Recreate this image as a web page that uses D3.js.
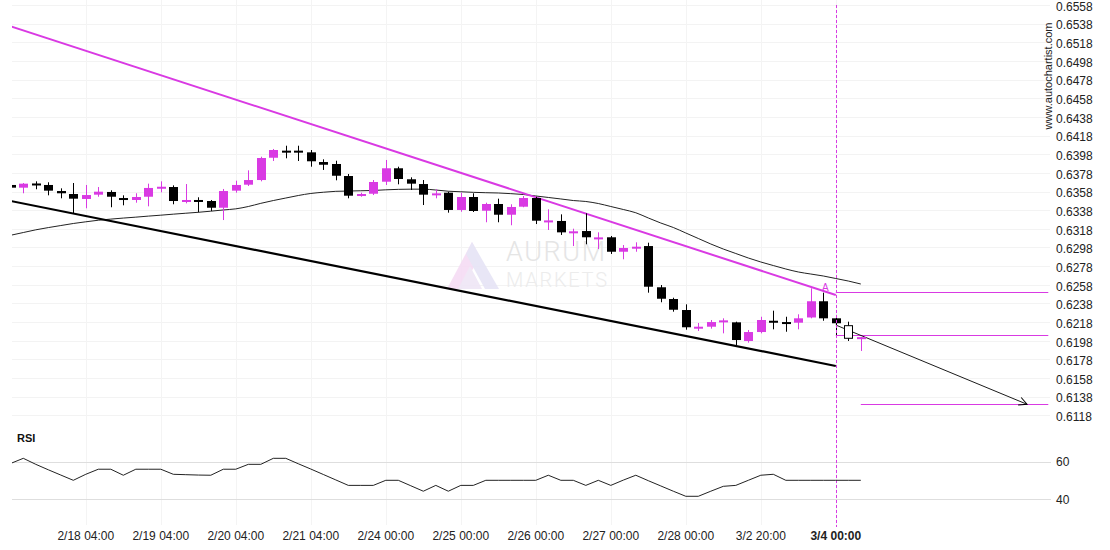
<!DOCTYPE html>
<html>
<head>
<meta charset="utf-8">
<script src="https://cdnjs.cloudflare.com/ajax/libs/d3/7.8.5/d3.min.js"></script>
<style>
  body { margin: 0; background: #fff; }
  svg { display: block; }
  text { font-family: "Liberation Sans", Arial, sans-serif; }
</style>
</head>
<body>
<svg id="chart"></svg>
<script>
var width = 1110,
    height = 550;

// 4h candles, index 0..68
var opens = [0.63650,0.63621,0.63666,0.63650,0.63585,0.63553,0.63500,0.63546,0.63575,0.63510,
  0.63489,0.63524,0.63614,0.63628,0.63482,0.63489,0.63478,0.63406,0.63589,0.63653,
  0.63703,0.63942,0.64018,0.64018,0.64000,0.63896,0.63875,0.63746,0.63535,0.63556,
  0.63685,0.63829,0.63711,0.63660,0.63553,0.63567,0.63382,0.63521,0.63374,0.63446,
  0.63331,0.63417,0.63510,0.63264,0.63264,0.63146,0.63156,0.63081,0.63089,0.62934,
  0.62979,0.62995,0.62553,0.62427,0.62309,0.62124,0.62130,0.62191,0.62177,0.61977,
  0.62073,0.62194,0.62180,0.62173,0.62229,0.62403,0.62220,0.62006,0.62012];
var highs = [0.63655,0.63671,0.63689,0.63679,0.63614,0.63671,0.63650,0.63628,0.63593,0.63539,
  0.63561,0.63664,0.63689,0.63646,0.63660,0.63518,0.63489,0.63607,0.63696,0.63807,
  0.63953,0.64036,0.64071,0.64071,0.64025,0.63925,0.63910,0.63768,0.63567,0.63703,
  0.63918,0.63846,0.63732,0.63703,0.63604,0.63578,0.63567,0.63561,0.63460,0.63503,
  0.63443,0.63532,0.63524,0.63389,0.63335,0.63181,0.63346,0.63142,0.63103,0.63006,
  0.63035,0.63031,0.62577,0.62441,0.62370,0.62170,0.62202,0.62220,0.62184,0.62095,
  0.62237,0.62302,0.62237,0.62263,0.62542,0.62495,0.62256,0.62184,0.62019];
var lows = [0.63617,0.63561,0.63604,0.63539,0.63507,0.63346,0.63400,0.63524,0.63411,0.63432,
  0.63460,0.63421,0.63571,0.63443,0.63453,0.63357,0.63371,0.63274,0.63567,0.63639,
  0.63689,0.63907,0.63936,0.63907,0.63846,0.63811,0.63700,0.63507,0.63524,0.63542,
  0.63650,0.63657,0.63596,0.63435,0.63507,0.63353,0.63363,0.63360,0.63250,0.63250,
  0.63218,0.63411,0.63231,0.63167,0.63114,0.62995,0.63014,0.62963,0.62910,0.62853,
  0.62934,0.62495,0.62392,0.62291,0.62098,0.62084,0.62109,0.62059,0.61934,0.61959,
  0.62059,0.62102,0.62076,0.62102,0.62220,0.62194,0.62041,0.61977,0.61870];
var closes = [0.63621,0.63664,0.63660,0.63589,0.63561,0.63503,0.63542,0.63578,0.63524,0.63492,
  0.63521,0.63618,0.63631,0.63478,0.63489,0.63482,0.63406,0.63585,0.63650,0.63703,
  0.63939,0.64025,0.64011,0.64011,0.63904,0.63867,0.63749,0.63535,0.63553,0.63682,
  0.63829,0.63714,0.63664,0.63546,0.63560,0.63382,0.63521,0.63371,0.63446,0.63331,
  0.63414,0.63510,0.63267,0.63270,0.63142,0.63153,0.63089,0.63088,0.62934,0.62974,
  0.62988,0.62559,0.62430,0.62312,0.62124,0.62130,0.62180,0.62198,0.61987,0.62073,
  0.62202,0.62188,0.62174,0.62220,0.62403,0.62220,0.62167,0.62141,0.62018];
var hollowIdx = [67];

var maValues = [0.63111,0.63140,0.63169,0.63193,0.63215,0.63237,0.63255,0.63272,0.63284,0.63295,
  0.63305,0.63316,0.63326,0.63337,0.63347,0.63357,0.63369,0.63382,0.63394,0.63419,
  0.63453,0.63483,0.63510,0.63537,0.63559,0.63572,0.63582,0.63585,0.63588,0.63591,
  0.63598,0.63603,0.63605,0.63605,0.63596,0.63583,0.63577,0.63571,0.63567,0.63564,
  0.63557,0.63548,0.63532,0.63516,0.63500,0.63483,0.63473,0.63451,0.63419,0.63387,
  0.63352,0.63296,0.63242,0.63194,0.63135,0.63076,0.63017,0.62963,0.62915,0.62867,
  0.62824,0.62786,0.62749,0.62717,0.62695,0.62674,0.62647,0.62620,0.62588];

var rsiValues = [59.1,61.8,58.6,55.7,52.9,50.1,53.3,56.0,56.0,52.8,
  56.0,56.0,56.0,53.3,53.1,52.9,52.8,56.0,56.0,58.6,
  58.6,61.8,61.8,58.9,56.1,53.2,50.3,47.4,47.4,47.4,
  50.1,50.1,47.2,44.3,47.4,44.3,47.4,47.4,50.1,50.1,
  50.1,50.1,50.1,52.8,50.1,50.1,47.4,50.1,47.4,50.2,
  52.8,49.9,47.1,44.3,41.6,41.6,44.3,46.9,47.4,50.1,
  52.8,53.3,50.1,50.1,50.1,50.1,50.1,50.1,50.1];

// pattern lines: [index, price]
var resistanceLine = [[0, 0.65351], [66, 0.62470]];
var supportLine = [[0, 0.63478], [66, 0.61709]];
var levelLines = [[66, 83, 0.62505], [66, 83, 0.62038], [68, 83, 0.61298]];
var forecastArrow = [[66, 0.62148], [81.3, 0.61298]];
var signalIdx = 66;

var xLabelIdx = [6, 12, 18, 24, 30, 36, 42, 48, 54, 60, 66];
var xLabels = ["2/18 04:00","2/19 04:00","2/20 04:00","2/21 04:00","2/24 00:00","2/25 00:00",
  "2/26 00:00","2/27 00:00","2/28 00:00","3/2 20:00","3/4 00:00"];
var priceTicks = [0.6558,0.6538,0.6518,0.6498,0.6478,0.6458,0.6438,0.6418,0.6398,0.6378,0.6358,
  0.6338,0.6318,0.6298,0.6278,0.6258,0.6238,0.6218,0.6198,0.6178,0.6158,0.6138,0.6118];
var rsiTicks = [60, 40];

var magenta = "#d93ae3";

var x = d3.scaleLinear().domain([0, 68]).range([10.8, 860.8]);
var y = d3.scaleLinear().domain([0.6118, 0.6558]).range([415.3, 5]);
var yRsi = d3.scaleLinear().domain([40, 60]).range([499.3, 461.7]);

var svg = d3.select('#chart')
            .attr('width', width)
            .attr('height', height);

var defs = svg.append('defs');
defs.append('clipPath').attr('id', 'clipPrice')
  .append('rect').attr('x', 12).attr('y', 0).attr('width', 1040).attr('height', 425);
defs.append('clipPath').attr('id', 'clipRsi')
  .append('rect').attr('x', 12).attr('y', 445).attr('width', 1040).attr('height', 80);
defs.append('marker')
    .attr('id', 'arrowHead')
    .attr('markerUnits', 'userSpaceOnUse')
    .attr('markerWidth', 12).attr('markerHeight', 12)
    .attr('refX', 9).attr('refY', 5)
    .attr('orient', 'auto')
  .append('path')
    .attr('d', 'M1,1 L9,5 L1,9')
    .attr('fill', 'none')
    .attr('stroke', '#000')
    .attr('stroke-width', 1);

// grid
svg.append('g').selectAll('line')
  .data(priceTicks).enter().append('line')
    .attr('x1', 12).attr('x2', 1050)
    .attr('y1', d => Math.round(y(d)) + 0.5).attr('y2', d => Math.round(y(d)) + 0.5)
    .attr('stroke', '#f3f3f3');

svg.append('g').selectAll('line')
  .data(xLabelIdx).enter().append('line')
    .attr('x1', d => Math.round(x(d)) + 0.5).attr('x2', d => Math.round(x(d)) + 0.5)
    .attr('y1', 0).attr('y2', 525)
    .attr('stroke', '#f4f4f4');

svg.append('g').selectAll('line')
  .data(rsiTicks).enter().append('line')
    .attr('x1', 12).attr('x2', 1051)
    .attr('y1', d => Math.round(yRsi(d)) + 0.5).attr('y2', d => Math.round(yRsi(d)) + 0.5)
    .attr('stroke', '#dedede');

// watermark
var wm = svg.append('g').attr('opacity', 0.9);
wm.append('polygon')
  .attr('points', '447,289 472,242 480,257 461,289')
  .attr('fill', '#f6dcf4');
wm.append('polygon')
  .attr('points', '472,242 499,289 485,289 466,254')
  .attr('fill', '#e6e4f6');
wm.append('polygon')
  .attr('points', '458,289 470,266 482,289')
  .attr('fill', '#efe6f6');
wm.append('text')
  .attr('x', 506).attr('y', 261)
  .attr('textLength', 99)
  .style('font-family', 'Roboto, sans-serif')
  .style('font-weight', 300)
  .style('font-size', '27px')
  .attr('fill', '#e3e3e3')
  .text('AURUM');
wm.append('text')
  .attr('x', 506).attr('y', 287)
  .attr('textLength', 101)
  .style('font-family', 'Roboto, sans-serif')
  .style('font-weight', 300)
  .style('font-size', '20px')
  .attr('fill', '#ebebeb')
  .text('MARKETS');

var price = svg.append('g').attr('clip-path', 'url(#clipPrice)');

// moving average
price.append('path')
  .datum(maValues)
  .attr('d', d3.line().x((d, i) => x(i)).y(d => y(d)).curve(d3.curveMonotoneX))
  .attr('fill', 'none')
  .attr('stroke', '#222')
  .attr('stroke-width', 1);

// channel lines
price.append('line')
  .attr('x1', x(supportLine[0][0])).attr('y1', y(supportLine[0][1]))
  .attr('x2', x(supportLine[1][0])).attr('y2', y(supportLine[1][1]))
  .attr('stroke', '#000').attr('stroke-width', 2.2);
price.append('line')
  .attr('x1', x(resistanceLine[0][0])).attr('y1', y(resistanceLine[0][1]))
  .attr('x2', x(resistanceLine[1][0])).attr('y2', y(resistanceLine[1][1]))
  .attr('stroke', magenta).attr('stroke-width', 2);

// levels + forecast
price.append('g').selectAll('line')
  .data(levelLines).enter().append('line')
    .attr('x1', d => x(d[0])).attr('x2', d => x(d[1]))
    .attr('y1', d => Math.round(y(d[2])) + 0.5).attr('y2', d => Math.round(y(d[2])) + 0.5)
    .attr('stroke', magenta).attr('stroke-width', 1);

price.append('line')
  .attr('x1', x(forecastArrow[0][0])).attr('y1', y(forecastArrow[0][1]))
  .attr('x2', x(forecastArrow[1][0])).attr('y2', y(forecastArrow[1][1]))
  .attr('stroke', '#000').attr('stroke-width', 0.9)
  .attr('marker-end', 'url(#arrowHead)');

// dashed signal line
svg.append('line')
  .attr('x1', Math.round(x(signalIdx)) + 0.5).attr('x2', Math.round(x(signalIdx)) + 0.5)
  .attr('y1', 5).attr('y2', 527)
  .attr('stroke', magenta).attr('stroke-width', 1)
  .attr('stroke-dasharray', '3,2');

// candles
var candles = price.append('g').selectAll('g')
  .data(opens.map((o, i) => ({i: i, o: o, h: highs[i], l: lows[i], c: closes[i]})))
  .enter().append('g');

function candleColor(d) {
  if (hollowIdx.indexOf(d.i) >= 0) return '#000';
  return d.c >= d.o ? magenta : '#000';
}

candles.append('line')
  .attr('x1', d => Math.round(x(d.i)) + 0.5).attr('x2', d => Math.round(x(d.i)) + 0.5)
  .attr('y1', d => y(d.h)).attr('y2', d => y(d.l))
  .attr('stroke', candleColor).attr('stroke-width', 1);

candles.append('rect')
  .attr('x', d => Math.round(x(d.i)) - 4 + (hollowIdx.indexOf(d.i) >= 0 ? 0.5 : 0))
  .attr('width', d => hollowIdx.indexOf(d.i) >= 0 ? 8 : 9)
  .attr('y', d => Math.min(y(d.o), y(d.c)))
  .attr('height', d => Math.max(2, Math.abs(y(d.o) - y(d.c))))
  .attr('fill', d => hollowIdx.indexOf(d.i) >= 0 ? '#fff' : candleColor(d))
  .attr('stroke', d => hollowIdx.indexOf(d.i) >= 0 ? '#000' : 'none')
  .attr('stroke-width', 1);

// pattern marker
svg.append('text')
  .attr('x', x(65) + 2).attr('y', y(highs[65]) - 2)
  .attr('text-anchor', 'middle')
  .style('font-size', '10px')
  .attr('fill', magenta)
  .text('A');

// RSI
svg.append('g').attr('clip-path', 'url(#clipRsi)')
  .append('path')
  .datum(rsiValues)
  .attr('d', d3.line().x((d, i) => x(i)).y(d => yRsi(d)))
  .attr('fill', 'none')
  .attr('stroke', '#222')
  .attr('stroke-width', 1);

svg.append('text')
  .attr('x', 17).attr('y', 442)
  .style('font-size', '11px').style('font-weight', 'bold')
  .attr('fill', '#111')
  .text('RSI');

// axes
var priceAxis = d3.axisRight(y).tickValues(priceTicks).tickSize(0).tickPadding(0)
  .tickFormat(d3.format('.4f'));
var gP = svg.append('g').attr('transform', 'translate(1056,1.5)').call(priceAxis);
gP.select('.domain').remove();
gP.selectAll('text').style('font-size', '12px').attr('fill', '#222')
  .style('font-family', '"Liberation Sans", Arial, sans-serif');

var rsiAxis = d3.axisRight(yRsi).tickValues(rsiTicks).tickSize(0).tickPadding(0);
var gR = svg.append('g').attr('transform', 'translate(1056,0)').call(rsiAxis);
gR.select('.domain').remove();
gR.selectAll('text').style('font-size', '12px').attr('fill', '#222')
  .style('font-family', '"Liberation Sans", Arial, sans-serif');

svg.append('g').selectAll('text')
  .data(xLabelIdx).enter().append('text')
    .attr('x', d => x(d)).attr('y', 540)
    .attr('text-anchor', 'middle')
    .style('font-size', '12px')
    .style('font-weight', (d, i) => i === xLabelIdx.length - 1 ? 'bold' : 'normal')
    .attr('fill', '#222')
    .text((d, i) => xLabels[i]);

svg.append('text')
  .attr('transform', 'translate(1052,76) rotate(-90)')
  .attr('text-anchor', 'middle')
  .style('font-size', '11px')
  .attr('fill', '#222')
  .text('www.autochartist.com');
</script>
</body>
</html>
